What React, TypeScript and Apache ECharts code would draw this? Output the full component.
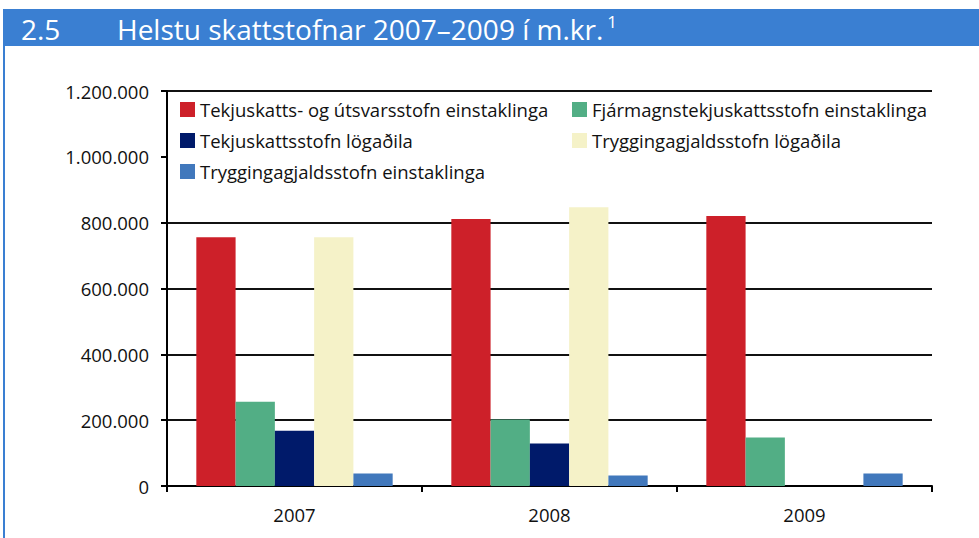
import React, { useEffect, useRef } from "react";
import * as echarts from "echarts";

const categories = ["2007", "2008", "2009"];
const seriesNames = [
  "Tekjuskatts- og útsvarsstofn einstaklinga",
  "Fjármagnstekjuskattsstofn einstaklinga",
  "Tekjuskattsstofn lögaðila",
  "Tryggingagjaldsstofn lögaðila",
  "Tryggingagjaldsstofn einstaklinga",
];
const tekjuskattsEinst = [756000, 811000, 820000];
const fjarmagnstekjuskatts = [256000, 202000, 147000];
const tekjuskattsLogadila = [168000, 129000, null];
const tryggingagjaldLogadila = [756000, 847000, null];
const tryggingagjaldEinst = [38000, 32000, 38000];
const seriesValues = [
  tekjuskattsEinst,
  fjarmagnstekjuskatts,
  tekjuskattsLogadila,
  tryggingagjaldLogadila,
  tryggingagjaldEinst,
];
const colors = ["#CD2029", "#52AE85", "#001A6A", "#F5F2C8", "#4178BC"];
const titleNumber = "2.5";
const titleText = "Helstu skattstofnar 2007–2009 í m.kr.";
const titleSup = "1";

const FONT = "'Open Sans', 'Noto Sans', sans-serif";
const FS = 18.5;

const fmt = (v: number) =>
  String(v).replace(/\B(?=(\d{3})+(?!\d))/g, ".");

export default function App() {
  const ref = useRef<HTMLDivElement>(null);
  useEffect(() => {
    if (!ref.current) return;
    const chart = echarts.init(ref.current, undefined, { renderer: "svg" });
    chart.setOption({
      animation: false,
      backgroundColor: "#fff",
      textStyle: { fontFamily: FONT },
      grid: { left: 167, right: 47, top: 91, bottom: 52, containLabel: false },
      xAxis: {
        type: "category",
        data: categories,
        axisLine: { lineStyle: { color: "#000", width: 2 } },
        axisTick: { show: true, length: 6, lineStyle: { color: "#000", width: 2 } },
        axisLabel: { color: "#111", fontSize: FS, margin: 19, fontFamily: FONT },
        splitLine: { show: false },
      },
      yAxis: {
        type: "value",
        min: 0,
        max: 1200000,
        interval: 200000,
        axisLine: { show: true, lineStyle: { color: "#000", width: 2 } },
        axisTick: { show: true, length: 6, lineStyle: { color: "#000", width: 2 } },
        axisLabel: {
          color: "#111",
          fontSize: FS,
          margin: 18,
          fontFamily: FONT,
          formatter: (v: number) => fmt(v),
        },
        splitLine: { show: true, lineStyle: { color: "#111", width: 2, type: "solid" } },
      },
      legend: [
        {
          left: 180,
          top: 100,
          orient: "vertical",
          padding: 0,
          itemGap: 12,
          itemWidth: 15,
          itemHeight: 15,
          icon: "rect",
          data: [seriesNames[0], seriesNames[2], seriesNames[4]],
          textStyle: { fontSize: FS, lineHeight: 19, color: "#111", fontFamily: FONT },
        },
        {
          left: 572,
          top: 100,
          orient: "vertical",
          padding: 0,
          itemGap: 12,
          itemWidth: 15,
          itemHeight: 15,
          icon: "rect",
          data: [seriesNames[1], seriesNames[3]],
          textStyle: { fontSize: FS, lineHeight: 19, color: "#111", fontFamily: FONT },
        },
      ],
      graphic: [
        {
          type: "rect",
          z: 1,
          shape: { x: 168, y: 96, width: 768, height: 90 },
          style: { fill: "#fff" },
          silent: true,
        },
        {
          type: "rect",
          z: 5,
          shape: { x: 3, y: 9, width: 976, height: 37 },
          style: { fill: "#3A7FD2" },
          silent: true,
        },
        {
          type: "rect",
          z: 5,
          shape: { x: 3, y: 9, width: 2, height: 529 },
          style: { fill: "#3A7FD2" },
          silent: true,
        },
        {
          type: "text",
          z: 6,
          x: 21,
          y: 29,
          style: {
            text: titleNumber,
            fill: "#fff",
            fontSize: 28,
            fontFamily: FONT,
            verticalAlign: "middle",
          },
          silent: true,
        },
        {
          type: "text",
          z: 6,
          x: 117,
          y: 29,
          style: {
            text: "{a|" + titleText + "}{b|" + titleSup + "}",
            fill: "#fff",
            verticalAlign: "middle",
            rich: {
              a: { fontSize: 28, fontFamily: FONT, fill: "#fff", lineHeight: 32 },
              b: {
                fontSize: 17,
                fontFamily: FONT,
                fill: "#fff",
                lineHeight: 32,
                padding: [0, 0, 16, 4],
              },
            },
          },
          silent: true,
        },
      ],
      series: seriesValues.map((vals, i) => ({
        name: seriesNames[i],
        type: "bar",
        data: vals,
        barGap: "0%",
        barCategoryGap: "23%",
        itemStyle: { color: colors[i] },
        z: 2,
      })),
    });
    return () => chart.dispose();
  }, []);
  return (
    <div
      ref={ref}
      style={{ position: "absolute", left: 0, top: 0, width: 979, height: 538 }}
    />
  );
}
